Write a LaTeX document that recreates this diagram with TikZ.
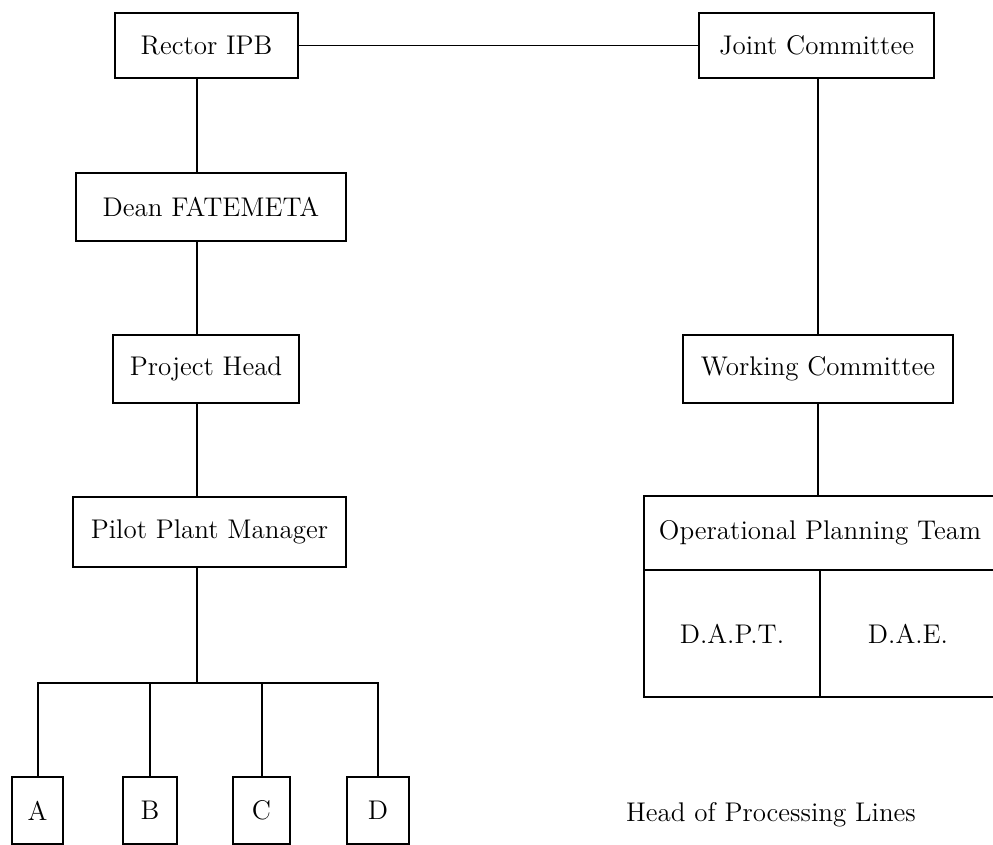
\documentclass[tikz,border=0pt]{standalone}
\usepackage{tikz}
\begin{document}
\begin{tikzpicture}[x=0.5pt, y=-0.5pt,
  box/.style={draw, line width=0.7pt, inner sep=0pt, outer sep=0pt, align=center, font=\fontsize{13.5}{16}\selectfont},
  link/.style={line width=1pt}
]
\clip (0,0) rectangle (993,845);
\coordinate (spineL) at (197,0);
\coordinate (bus) at (0,683);
% left column
\node[box, minimum width=91.5pt, minimum height=32.5pt] (rector) at (206.5,45.5) {Rector IPB};
\node[box, minimum width=135pt, minimum height=34pt] (dean) at (211,207) {Dean FATEMETA};
\node[box, minimum width=93pt, minimum height=34pt] (project) at (206,369) {Project Head};
\node[box, minimum width=136.5pt, minimum height=35pt] (pilot) at (209.5,532) {Pilot Plant Manager};
\node[box, minimum width=25.5pt, minimum height=33.5pt] (lineA) at (37.5,810.5) {A};
\node[box, minimum width=27pt, minimum height=33.5pt] (lineB) at (150,810.5) {B};
\node[box, minimum width=28.5pt, minimum height=33.5pt] (lineC) at (261.5,810.5) {C};
\node[box, minimum width=31pt, minimum height=33.5pt] (lineD) at (378,810.5) {D};
% right column
\node[box, minimum width=117.5pt, minimum height=32.5pt] (joint) at (816.5,45.5) {Joint Committee};
\node[box, minimum width=135pt, minimum height=34pt] (working) at (818,369) {Working Committee};
\node[box, minimum width=176pt, minimum height=37pt] (optm) at (820,533) {Operational Planning Team};
\node[box, minimum width=88pt, minimum height=63.5pt] (dapt) at (732,633.5) {D.A.P.T.};
\node[box, minimum width=88pt, minimum height=63.5pt] (dae) at (908,633.5) {D.A.E.};
\node[font=\fontsize{13.5}{16}\selectfont] (heads) at (771,815) {Head of Processing Lines};
% connectors
\draw[line width=0.7pt] (rector.east) -- (joint.west);
\draw[link] (rector.south -| spineL) -- (dean.north -| spineL);
\draw[link] (dean.south -| spineL) -- (project.north -| spineL);
\draw[link] (project.south -| spineL) -- (pilot.north -| spineL);
\draw[link] (pilot.south -| spineL) -- (spineL |- bus);
\draw[link] (lineA.north) -- (lineA.north |- bus) -- (lineD.north |- bus) -- (lineD.north);
\draw[link] (lineB.north) -- (lineB.north |- bus);
\draw[link] (lineC.north) -- (lineC.north |- bus);
\draw[link] (joint.south -| working.north) -- (working.north);
\draw[link] (working.south) -- (working.south |- optm.north);
\end{tikzpicture}
\end{document}
